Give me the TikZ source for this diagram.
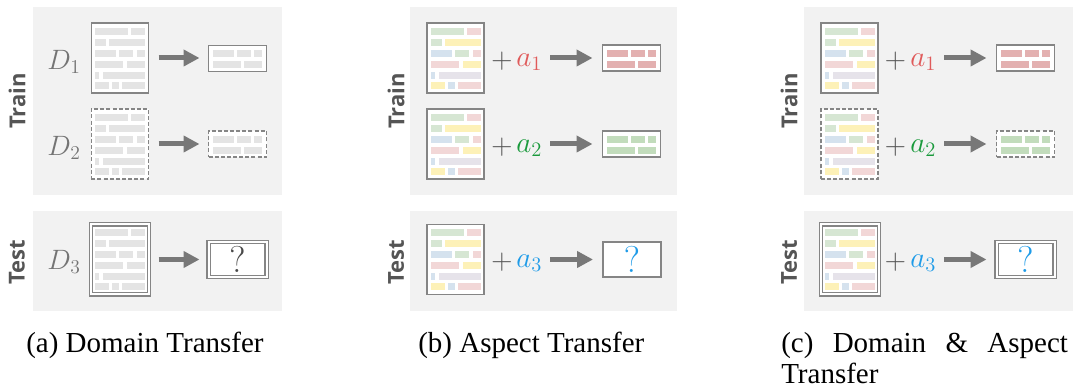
\RequirePackage{fix-cm}
\documentclass[tikz,border=0pt]{standalone}
\usepackage{fontspec}
\newfontfamily\capfont{Liberation Serif}
\newfontfamily\lblfont{Open Sans}
\usetikzlibrary{arrows.meta}
\definecolor{panelbg}{HTML}{F2F2F2}
\definecolor{bordergray}{HTML}{858585}
\definecolor{bargray}{HTML}{E4E4E4}
\definecolor{arrowgray}{HTML}{787878}
\definecolor{bgreen}{HTML}{D6E6D3}
\definecolor{bpink}{HTML}{F2D7D7}
\definecolor{byellow}{HTML}{FDF1B8}
\definecolor{bblue}{HTML}{D5E2EE}
\definecolor{blav}{HTML}{E6E3EA}
\definecolor{sred}{HTML}{E3B0B0}
\definecolor{sgreen}{HTML}{C2DCBC}
\definecolor{ared}{HTML}{E05A5A}
\definecolor{agreen}{HTML}{1A9A3C}
\definecolor{ablue}{HTML}{1E9BE8}
\definecolor{labelgray}{HTML}{555555}
\definecolor{dgray}{HTML}{747474}
\definecolor{qgray}{HTML}{4A4A4A}
\newcommand\docbars[6]{%
\begin{scope}[shift={(#1.north west)}]
\fill[#2] (4,5) rectangle (37,12);
\fill[#3] (40,5) rectangle (54,12);
\fill[#2] (4,16) rectangle (15,23);
\fill[#4] (18,16) rectangle (54,23);
\fill[#5] (4,27) rectangle (25,34);
\fill[#2] (28,27) rectangle (42,34);
\fill[#3] (46,27) rectangle (54,34);
\fill[#3] (4,38) rectangle (32,45);
\fill[#4] (36,38) rectangle (54,45);
\fill[#5] (4,49) rectangle (8,56);
\fill[#6] (12,49) rectangle (54,56);
\fill[#4] (4,59) rectangle (18,66);
\fill[#5] (21,59) rectangle (28,66);
\fill[#3] (31,59) rectangle (54,66);
\end{scope}}
\newcommand\sumbars[2]{%
\begin{scope}[shift={(#1.north west)}]
\fill[#2] (4,5) rectangle (25,12);
\fill[#2] (28,5) rectangle (42,12);
\fill[#2] (45,5) rectangle (53,12);
\fill[#2] (4,16) rectangle (32,23);
\fill[#2] (35,16) rectangle (53,23);
\end{scope}}
\tikzset{
  panel/.style={fill=panelbg, draw=none},
  docbox/.style={draw=bordergray, line width=1.1pt, fill=white, minimum width=43pt, minimum height=52.5pt, inner sep=0pt, outer sep=0pt},
  outbox/.style={draw=bordergray, line width=1.1pt, fill=white, minimum width=43.5pt, minimum height=19.5pt, inner sep=0pt, outer sep=0pt},
  qbox/.style={draw=bordergray, line width=1.1pt, fill=white, minimum width=43.5pt, minimum height=26pt, inner sep=0pt, outer sep=0pt, font=\fontsize{28}{28}\selectfont},
  dashbox/.style={dash pattern=on 3pt off 1.6pt},
  dbl/.style={line width=0.8pt, double=white, double distance=1.5pt},
  sidelbl/.style={rotate=90, text=labelgray, font=\lblfont\bfseries\fontsize{16.5}{16.5}\selectfont, inner sep=0pt},
  dlbl/.style={text=dgray, font=\fontsize{21}{21}\selectfont, inner sep=0pt},
  plus/.style={text=labelgray, font=\fontsize{22}{22}\selectfont, inner sep=0pt},
  alab/.style={anchor=west, font=\fontsize{22}{22}\selectfont, inner sep=0pt},
  bigarrow/.style={draw=arrowgray, line width=3.75pt, -{Triangle[length=12pt,width=12pt]}},
  caption/.style={anchor=base west, inner sep=0pt, font=\capfont\fontsize{21.75}{23.25}\selectfont}
}
\begin{document}
\begin{tikzpicture}[x=0.75pt, y=-0.75pt]
\useasboundingbox (0,0) rectangle (1073,391);
% ---------- panel backgrounds
\fill[panel] (33,7) rectangle (282,195);
\fill[panel] (33,211) rectangle (282,311);
\fill[panel] (410,7) rectangle (677,195);
\fill[panel] (410,211) rectangle (677,311);
\fill[panel] (804,7) rectangle (1073,195);
\fill[panel] (804,211) rectangle (1073,311);
% ---------- side labels
\node[sidelbl] (a-train) at (17,101) {Train};
\node[sidelbl] (a-test) at (17,262) {Test};
\node[sidelbl] (b-train) at (396,101) {Train};
\node[sidelbl] (b-test) at (396,262) {Test};
\node[sidelbl] (c-train) at (789,101) {Train};
\node[sidelbl] (c-test) at (789,262) {Test};
% ---------- panel (a)
\node[dlbl] (a-d1) at (64,62) {$D_1$};
\node[docbox] (a-doc1) at (120,58) {};
\docbars{a-doc1}{bargray}{bargray}{bargray}{bargray}{bargray}
\node[outbox] (a-out1) at (237.5,58.5) {};
\sumbars{a-out1}{bargray}
\draw[bigarrow, shorten <=7.5pt, shorten >=6.75pt] (a-doc1.east) -- (a-doc1.east -| a-out1.west);

\node[dlbl] (a-d2) at (64,148) {$D_2$};
\node[docbox, dashbox] (a-doc2) at (120,144) {};
\docbars{a-doc2}{bargray}{bargray}{bargray}{bargray}{bargray}
\node[outbox, dashbox] (a-out2) at (237.5,144) {};
\sumbars{a-out2}{bargray}
\draw[bigarrow, shorten <=7.5pt, shorten >=6.75pt] (a-doc2.east) -- (a-doc2.east -| a-out2.west);

\node[dlbl] (a-d3) at (64,262) {$D_3$};
\node[docbox, dbl] (a-doc3) at (120,259.5) {};
\docbars{a-doc3}{bargray}{bargray}{bargray}{bargray}{bargray}
\node[qbox, dbl, text=qgray] (a-out3) at (237.5,259.5) {$?$};
\draw[bigarrow, shorten <=7.5pt, shorten >=6.75pt] (a-doc3.east) -- (a-doc3.east -| a-out3.west);
% ---------- panel (b)
\node[docbox] (b-doc1) at (455.5,58) {};
\docbars{b-doc1}{bgreen}{bpink}{byellow}{bblue}{blav}
\node[plus] (b-p1) at (502,61) {$+$};
\node[alab, text=ared] (b-a1) at (516,62) {$a_1$};
\node[outbox] (b-out1) at (631.5,58) {};
\sumbars{b-out1}{sred}
\draw[bigarrow, shorten <=6pt, shorten >=7.5pt] (b-a1.east |- b-out1.west) -- (b-out1.west);

\node[docbox] (b-doc2) at (455.5,144) {};
\docbars{b-doc2}{bgreen}{bpink}{byellow}{bblue}{blav}
\node[plus] (b-p2) at (502,147) {$+$};
\node[alab, text=agreen] (b-a2) at (516,148) {$a_2$};
\node[outbox] (b-out2) at (631.5,144) {};
\sumbars{b-out2}{sgreen}
\draw[bigarrow, shorten <=6pt, shorten >=7.5pt] (b-a2.east |- b-out2.west) -- (b-out2.west);

\node[docbox] (b-doc3) at (455.5,259.5) {};
\docbars{b-doc3}{bgreen}{bpink}{byellow}{bblue}{blav}
\node[plus] (b-p3) at (502,262) {$+$};
\node[alab, text=ablue] (b-a3) at (516,263) {$a_3$};
\node[qbox, text=ablue] (b-out3) at (632,259.5) {$?$};
\draw[bigarrow, shorten <=6pt, shorten >=7.5pt] (b-a3.east |- b-out3.west) -- (b-out3.west);
% ---------- panel (c)
\node[docbox] (c-doc1) at (849.5,58) {};
\docbars{c-doc1}{bgreen}{bpink}{byellow}{bblue}{blav}
\node[plus] (c-p1) at (895.5,61) {$+$};
\node[alab, text=ared] (c-a1) at (910,62) {$a_1$};
\node[outbox] (c-out1) at (1025.5,58) {};
\sumbars{c-out1}{sred}
\draw[bigarrow, shorten <=6pt, shorten >=7.5pt] (c-a1.east |- c-out1.west) -- (c-out1.west);

\node[docbox, dashbox] (c-doc2) at (849.5,144) {};
\docbars{c-doc2}{bgreen}{bpink}{byellow}{bblue}{blav}
\node[plus] (c-p2) at (895.5,147) {$+$};
\node[alab, text=agreen] (c-a2) at (910,148) {$a_2$};
\node[outbox, dashbox] (c-out2) at (1025.5,144) {};
\sumbars{c-out2}{sgreen}
\draw[bigarrow, shorten <=6pt, shorten >=7.5pt] (c-a2.east |- c-out2.west) -- (c-out2.west);

\node[docbox, dbl] (c-doc3) at (850,259.5) {};
\docbars{c-doc3}{bgreen}{bpink}{byellow}{bblue}{blav}
\node[plus] (c-p3) at (895.5,262) {$+$};
\node[alab, text=ablue] (c-a3) at (910,263) {$a_3$};
\node[qbox, dbl, text=ablue] (c-out3) at (1025.5,259.5) {$?$};
\draw[bigarrow, shorten <=6pt, shorten >=7.5pt] (c-a3.east |- c-out3.west) -- (c-out3.west);
% ---------- captions
\node[caption] (cap-a) at (26,352) {(a) Domain Transfer};
\node[caption] (cap-b) at (418,352) {(b) Aspect Transfer};
\node[caption] (cap-c) at (781,352) {\parbox[t]{215pt}{(c) Domain \& Aspect\linebreak Transfer}};
\end{tikzpicture}
\end{document}
